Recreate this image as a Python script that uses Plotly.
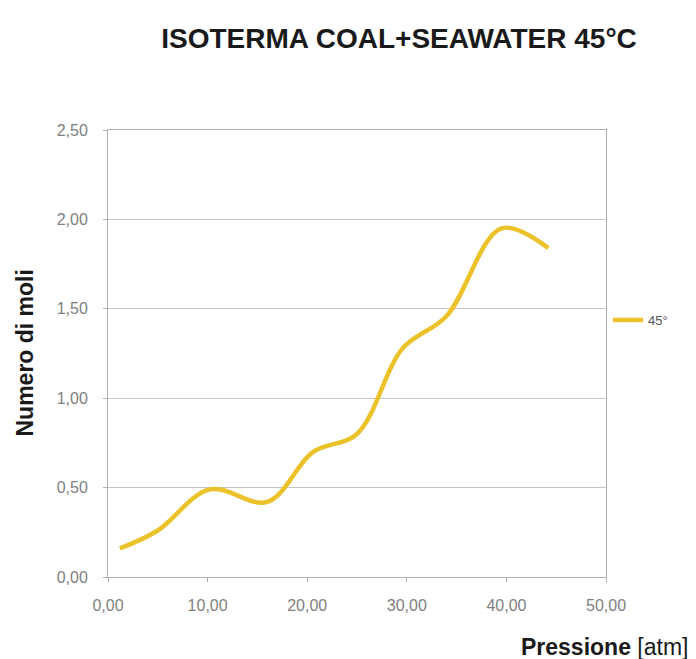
import plotly.graph_objects as go

# Data
pressione = [1.2, 5.0, 10.2, 16.0, 20.6, 25.0, 29.6, 34.0, 39.5, 44.2]
moli_45 = [0.16, 0.26, 0.49, 0.42, 0.70, 0.80, 1.28, 1.46, 1.95, 1.84]
x_ticks = [0, 10, 20, 30, 40, 50]
y_ticks = [0, 0.5, 1.0, 1.5, 2.0, 2.5]
series_name = "45°"

# page body has an 8px margin; figure is sized to fit the 696x659 window
OFF = 8
W, H = 696 - OFF, 659 - OFF
L = 108 - OFF
T = 130 - OFF
R = W - (606 - OFF)
B = H - (577 - OFF)
pw = W - L - R
ph = H - T - B

FONT = "Liberation Sans, Arial, sans-serif"


def px_x(p):
    return (p - OFF - L) / pw


def px_y(p):
    return (H - B - (p - OFF)) / ph


fig = go.Figure()
fig.add_trace(go.Scatter(
    x=pressione, y=moli_45, mode="lines", name=series_name,
    line=dict(color="#EBC22A", width=4.5, shape="spline", smoothing=1.0),
))

fig.update_layout(
    width=W, height=H,
    margin=dict(l=L, r=R, t=T, b=B),
    paper_bgcolor="white", plot_bgcolor="white",
    separators=",.",
    font=dict(family=FONT, color="#7f7f7f", size=16),
    title=dict(text="<b>ISOTERMA COAL+SEAWATER 45°C</b>",
               font=dict(family=FONT, size=28, color="#1a1a1a"),
               xref="container", yref="container",
               x=(399 - OFF) / W, xanchor="center", y=1 - (38 - OFF) / H, yanchor="middle"),
    showlegend=True,
    legend=dict(x=px_x(608), xanchor="left", y=px_y(320), yanchor="middle",
                bgcolor="rgba(0,0,0,0)", font=dict(size=13, color="#555555")),
    xaxis=dict(range=[0, 50], tickvals=x_ticks, tickformat=".2f",
               showgrid=False, zeroline=False,
               showline=True, linecolor="#b0b0b0", linewidth=1, mirror=True,
               ticks="outside", ticklen=4, tickcolor="#b0b0b0",
               ticklabelstandoff=10,
               tickfont=dict(size=16, color="#808080")),
    yaxis=dict(range=[0, 2.5], tickvals=y_ticks, tickformat=".2f",
               showgrid=True, gridcolor="#c4c4c4", gridwidth=1, zeroline=False,
               showline=True, linecolor="#b0b0b0", linewidth=1, mirror=True,
               ticks="outside", ticklen=4, tickcolor="#b0b0b0",
               ticklabelstandoff=12,
               tickfont=dict(size=16, color="#808080")),
)

fig.add_annotation(text="<b>Numero di moli</b>", xref="paper", yref="paper",
                   x=px_x(24), y=0.5, xanchor="center", yanchor="middle",
                   textangle=-90, showarrow=False,
                   font=dict(family=FONT, size=23, color="#1a1a1a"))
fig.add_annotation(text="<b>Pressione</b> [atm]", xref="paper", yref="paper",
                   x=px_x(690), y=px_y(647), xanchor="right", yanchor="middle",
                   showarrow=False,
                   font=dict(family=FONT, size=23, color="#1a1a1a"))

fig.write_html("out.html")
